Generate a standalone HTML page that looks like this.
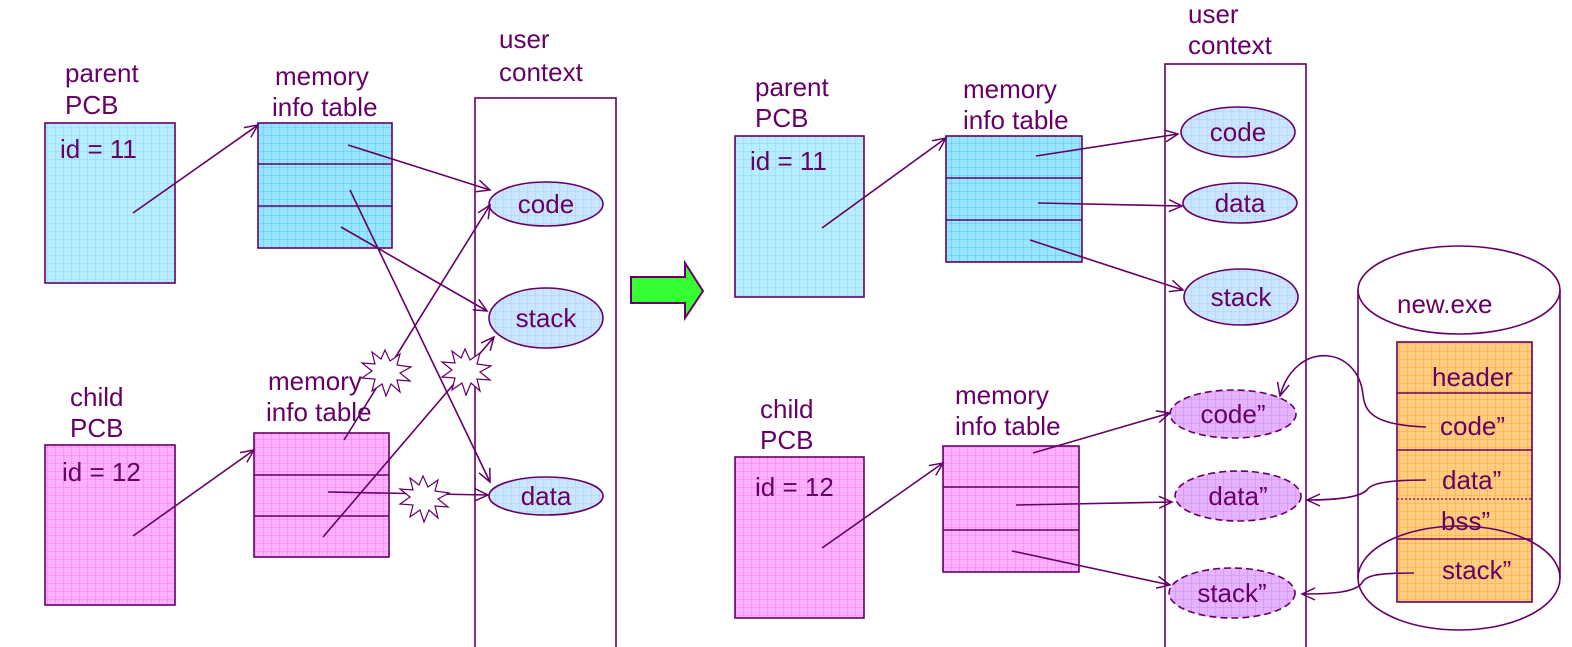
<!DOCTYPE html>
<html><head><meta charset="utf-8"><style>
html,body{margin:0;padding:0;background:#fff;width:1572px;height:647px;overflow:hidden}
text{font-family:"Liberation Sans",sans-serif;fill:#660066;font-size:26px}
</style></head><body>
<svg width="1572" height="647" viewBox="0 0 1572 647" xmlns="http://www.w3.org/2000/svg">
<defs>
<pattern id="gb" width="8" height="8" patternUnits="userSpaceOnUse"><rect width="8" height="8" fill="#b8ecff"/><path d="M8 0V8M0 8H8" stroke="#7fd4f5" stroke-width="0.8"/></pattern>
<pattern id="gb2" width="8" height="8" patternUnits="userSpaceOnUse"><rect width="8" height="8" fill="#99e4ff"/><path d="M8 0V8M0 8H8" stroke="#3cc4ee" stroke-width="0.8"/></pattern>
<pattern id="ge" width="8" height="8" patternUnits="userSpaceOnUse"><rect width="8" height="8" fill="#cce5ff"/><path d="M8 0V8M0 8H8" stroke="#99ccf5" stroke-width="0.8"/></pattern>
<pattern id="gp" width="8" height="8" patternUnits="userSpaceOnUse"><rect width="8" height="8" fill="#ffb0ff"/><path d="M8 0V8M0 8H8" stroke="#f070f0" stroke-width="0.8"/></pattern>
<pattern id="gv" width="8" height="8" patternUnits="userSpaceOnUse"><rect width="8" height="8" fill="#e6b3ff"/><path d="M8 0V8M0 8H8" stroke="#c880f0" stroke-width="0.8"/></pattern>
<pattern id="go" width="8" height="8" patternUnits="userSpaceOnUse"><rect width="8" height="8" fill="#ffcc80"/><path d="M8 0V8M0 8H8" stroke="#f5a020" stroke-width="0.8"/></pattern>
<marker id="a" markerWidth="16" markerHeight="14" refX="14" refY="7" orient="auto" markerUnits="userSpaceOnUse"><path d="M1 1L14 7L1 13" fill="none" stroke="#660066" stroke-width="1.5"/></marker>
<path id="star" d="M0 -17l5 11 10-7-3 11 14 2-11 6 10 8-13-1 3 12-9-8-5 12-4-12-10 7 3-12-13-1 10-7-10-8 13 1-3-12 9 7z"/>
</defs>
<g stroke="#660066" stroke-width="1.6">
<rect x="45" y="123" width="130" height="160" fill="url(#gb)"/>
<rect x="258" y="123" width="134" height="125" fill="url(#gb2)"/>
<line x1="258" y1="164" x2="392" y2="164"/><line x1="258" y1="206" x2="392" y2="206"/>
<rect x="475" y="98" width="141" height="560" fill="none"/>
<ellipse cx="546" cy="204" rx="57" ry="22" fill="url(#ge)"/>
<ellipse cx="546" cy="318" rx="57" ry="30" fill="url(#ge)"/>
<ellipse cx="546" cy="496" rx="57" ry="19" fill="url(#ge)"/>
<rect x="45" y="445" width="130" height="160" fill="url(#gp)"/>
<rect x="254" y="433" width="135" height="124" fill="url(#gp)"/>
<line x1="254" y1="475" x2="389" y2="475"/><line x1="254" y1="516" x2="389" y2="516"/>
<g fill="none" marker-end="url(#a)">
<line x1="133" y1="213" x2="258" y2="125"/>
<line x1="348" y1="145" x2="490" y2="190"/>
<line x1="350" y1="190" x2="490" y2="482"/>
<line x1="341" y1="227" x2="487" y2="311"/>
<line x1="344" y1="440" x2="490" y2="205"/>
<line x1="323" y1="537" x2="494" y2="337"/>
<line x1="328" y1="492" x2="488" y2="495"/>
<line x1="133" y1="536" x2="254" y2="450"/>
</g>
<g fill="#fff" stroke-width="1.2">
<use href="#star" x="385" y="367"/>
<use href="#star" x="465" y="366"/>
<use href="#star" x="423" y="493"/>
</g>
<path d="M631 277H685V263L703 291L685 318V303H631Z" fill="#33ff33" stroke-width="2"/>
<rect x="735" y="136" width="129" height="161" fill="url(#gb)"/>
<rect x="946" y="136" width="136" height="126" fill="url(#gb2)"/>
<line x1="946" y1="178" x2="1082" y2="178"/><line x1="946" y1="220" x2="1082" y2="220"/>
<rect x="1165" y="64" width="141" height="600" fill="none"/>
<ellipse cx="1238" cy="132" rx="57" ry="25" fill="url(#ge)"/>
<ellipse cx="1240" cy="203" rx="57" ry="20" fill="url(#ge)"/>
<ellipse cx="1241" cy="297" rx="57" ry="28" fill="url(#ge)"/>
<g stroke-dasharray="7,4">
<ellipse cx="1233" cy="414" rx="63" ry="24" fill="url(#gv)"/>
<ellipse cx="1238" cy="496" rx="63" ry="25" fill="url(#gv)"/>
<ellipse cx="1232" cy="593" rx="63" ry="25" fill="url(#gv)"/>
</g>
<rect x="735" y="457" width="129" height="161" fill="url(#gp)"/>
<rect x="943" y="446" width="136" height="126" fill="url(#gp)"/>
<line x1="943" y1="487" x2="1079" y2="487"/><line x1="943" y1="530" x2="1079" y2="530"/>
<path d="M1358 290V578M1560 290V578" fill="none"/>
<ellipse cx="1459" cy="290" rx="101" ry="44" fill="#fff"/>
<rect x="1397" y="342" width="135" height="260" fill="url(#go)"/>
<line x1="1397" y1="393" x2="1532" y2="393"/><line x1="1397" y1="450" x2="1532" y2="450"/>
<line x1="1397" y1="499" x2="1532" y2="499" stroke-dasharray="2,2" stroke-width="1.2"/>
<line x1="1397" y1="539" x2="1532" y2="539"/>
<ellipse cx="1459" cy="578" rx="101" ry="52" fill="none"/>
<g fill="none" marker-end="url(#a)">
<line x1="822" y1="228" x2="946" y2="138"/>
<line x1="1036" y1="156" x2="1178" y2="134"/>
<line x1="1038" y1="203" x2="1182" y2="206"/>
<line x1="1030" y1="240" x2="1183" y2="290"/>
<line x1="822" y1="548" x2="943" y2="463"/>
<line x1="1033" y1="453" x2="1170" y2="413"/>
<line x1="1016" y1="505" x2="1172" y2="502"/>
<line x1="1012" y1="551" x2="1170" y2="585"/>
<path d="M1426 427C1370 425 1365 410 1363 395C1358 345 1295 340 1280 396"/>
<path d="M1426 480C1380 480 1370 485 1367 490C1360 497 1340 500 1307 500"/>
<path d="M1414 573C1375 573 1365 576 1362 583C1355 592 1335 594 1302 594"/>
</g>
</g>
<text x="65" y="82">parent</text><text x="65" y="114">PCB</text>
<text x="60" y="158">id = 11</text>
<text x="275" y="85">memory</text><text x="272" y="116">info table</text>
<text x="499" y="48">user</text><text x="499" y="81">context</text>
<text x="546" y="213" text-anchor="middle">code</text>
<text x="546" y="327" text-anchor="middle">stack</text>
<text x="546" y="505" text-anchor="middle">data</text>
<text x="70" y="406">child</text><text x="70" y="437">PCB</text>
<text x="62" y="481">id = 12</text>
<text x="268" y="390">memory</text><text x="266" y="421">info table</text>
<text x="755" y="96">parent</text><text x="755" y="127">PCB</text>
<text x="750" y="170">id = 11</text>
<text x="963" y="98">memory</text><text x="963" y="129">info table</text>
<text x="1188" y="23">user</text><text x="1188" y="54">context</text>
<text x="1238" y="141" text-anchor="middle">code</text>
<text x="1240" y="212" text-anchor="middle">data</text>
<text x="1241" y="306" text-anchor="middle">stack</text>
<text x="1233" y="423" text-anchor="middle">code”</text>
<text x="1238" y="505" text-anchor="middle">data”</text>
<text x="1232" y="602" text-anchor="middle">stack”</text>
<text x="760" y="418">child</text><text x="760" y="449">PCB</text>
<text x="755" y="496">id = 12</text>
<text x="955" y="404">memory</text><text x="955" y="435">info table</text>
<text x="1397" y="313">new.exe</text>
<text x="1432" y="386">header</text>
<text x="1440" y="435">code”</text>
<text x="1442" y="489">data”</text>
<text x="1441" y="530">bss”</text>
<text x="1442" y="579">stack”</text>
</svg>
</body></html>
